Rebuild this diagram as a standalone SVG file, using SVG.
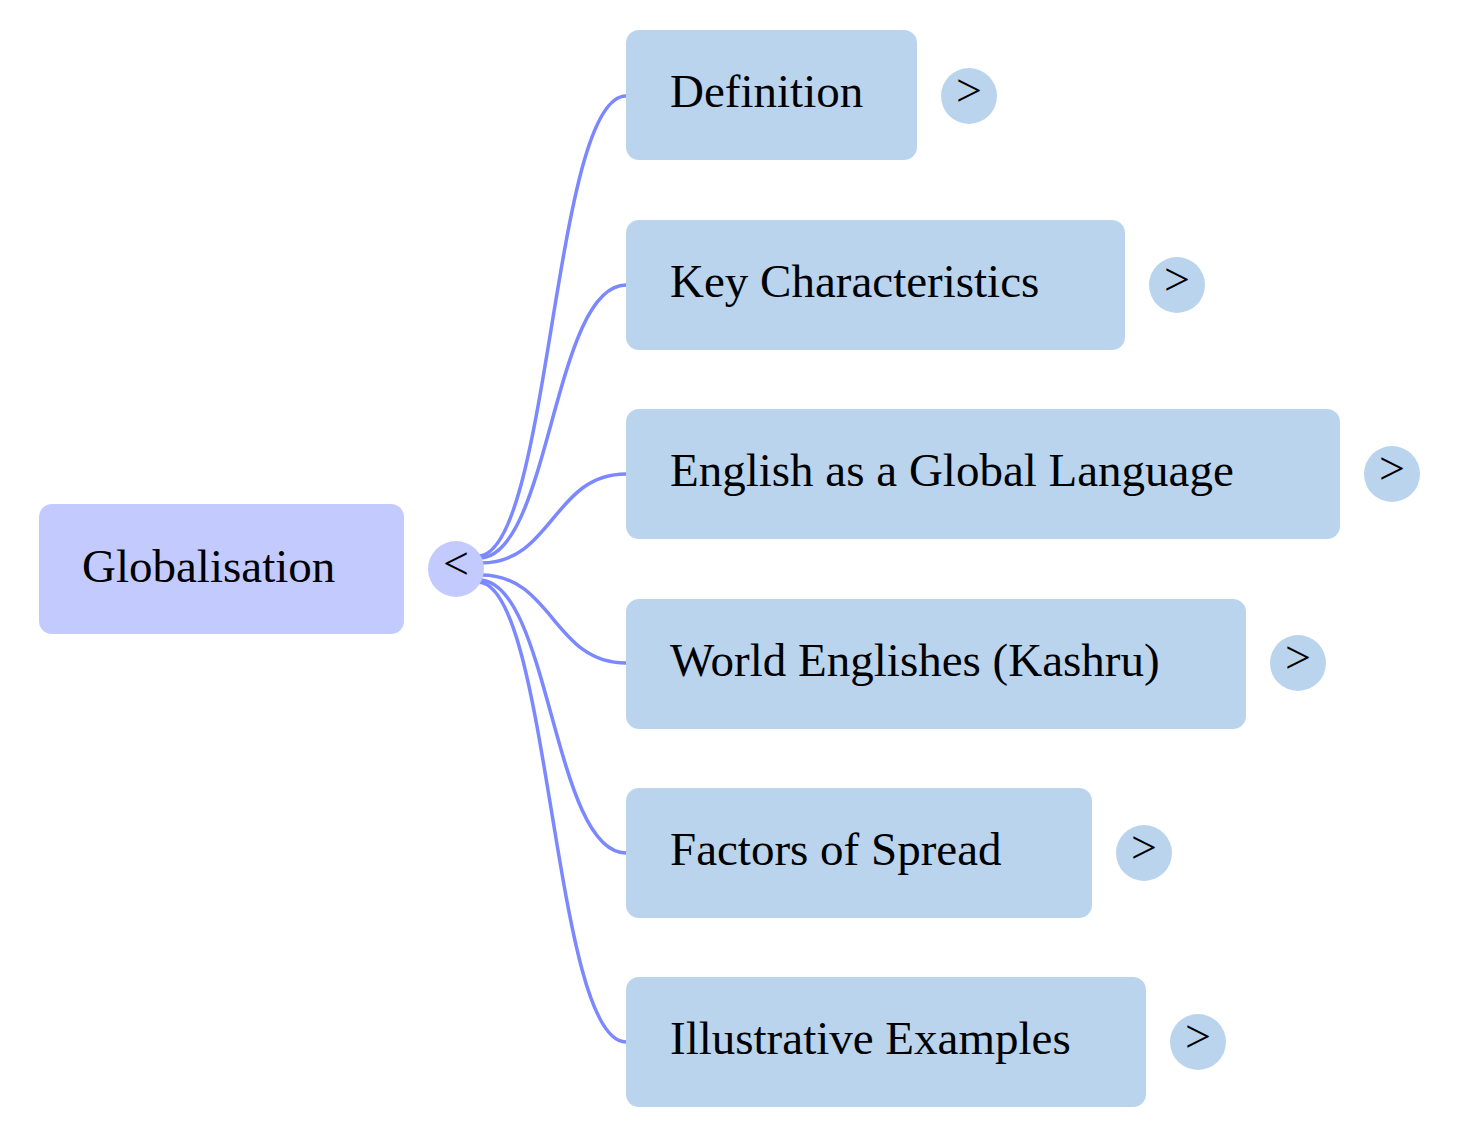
<svg xmlns="http://www.w3.org/2000/svg" width="1460" height="1138" viewBox="0 0 1460 1138">
<style>
.root{fill:#c3cafe}
.child{fill:#bad4ee}
.lbl{font-family:"Liberation Serif","Times New Roman",serif;font-size:47px;fill:#000}
.tog{font-family:"Liberation Serif","Times New Roman",serif;font-size:46px;fill:#000;text-anchor:middle}
.edge{fill:none;stroke:#7b88ff;stroke-width:3.5}
</style>
<rect width="1460" height="1138" fill="#fff"/>
<g id="connectors">
<path class="edge" d="M478,556 C550,556 553,96 626,96"/>
<path class="edge" d="M479,558 C550,558 553,285 626,285"/>
<path class="edge" d="M481,563 C553,563 553,474 626,474"/>
<path class="edge" d="M481,575 C553,575 553,663 626,663"/>
<path class="edge" d="M479,580 C550,580 553,853 626,853"/>
<path class="edge" d="M478,582 C550,582 553,1042 626,1042"/>
</g>
<g id="node-root">
<rect class="root" x="39" y="504" width="365" height="130" rx="13"/>
<text class="lbl" x="82" y="582">Globalisation</text>
<circle class="root" cx="456" cy="569" r="28"/>
<text class="tog" x="456" y="579">&lt;</text>
</g>
<g id="node-definition">
<rect class="child" x="626" y="30" width="291" height="130" rx="13"/>
<text class="lbl" x="670" y="107">Definition</text>
<circle class="child" cx="969" cy="96" r="28"/>
<text class="tog" x="969" y="106">&gt;</text>
</g>
<g id="node-key">
<rect class="child" x="626" y="220" width="499" height="130" rx="13"/>
<text class="lbl" x="670" y="297">Key Characteristics</text>
<circle class="child" cx="1177" cy="285" r="28"/>
<text class="tog" x="1177" y="295">&gt;</text>
</g>
<g id="node-english">
<rect class="child" x="626" y="409" width="714" height="130" rx="13"/>
<text class="lbl" x="670" y="486">English as a Global Language</text>
<circle class="child" cx="1392" cy="474" r="28"/>
<text class="tog" x="1392" y="484">&gt;</text>
</g>
<g id="node-world">
<rect class="child" x="626" y="599" width="620" height="130" rx="13"/>
<text class="lbl" x="670" y="676">World Englishes (Kashru)</text>
<circle class="child" cx="1298" cy="663" r="28"/>
<text class="tog" x="1298" y="673">&gt;</text>
</g>
<g id="node-factors">
<rect class="child" x="626" y="788" width="466" height="130" rx="13"/>
<text class="lbl" x="670" y="865">Factors of Spread</text>
<circle class="child" cx="1144" cy="853" r="28"/>
<text class="tog" x="1144" y="863">&gt;</text>
</g>
<g id="node-illustrative">
<rect class="child" x="626" y="977" width="520" height="130" rx="13"/>
<text class="lbl" x="670" y="1054">Illustrative Examples</text>
<circle class="child" cx="1198" cy="1042" r="28"/>
<text class="tog" x="1198" y="1052">&gt;</text>
</g>
</svg>
